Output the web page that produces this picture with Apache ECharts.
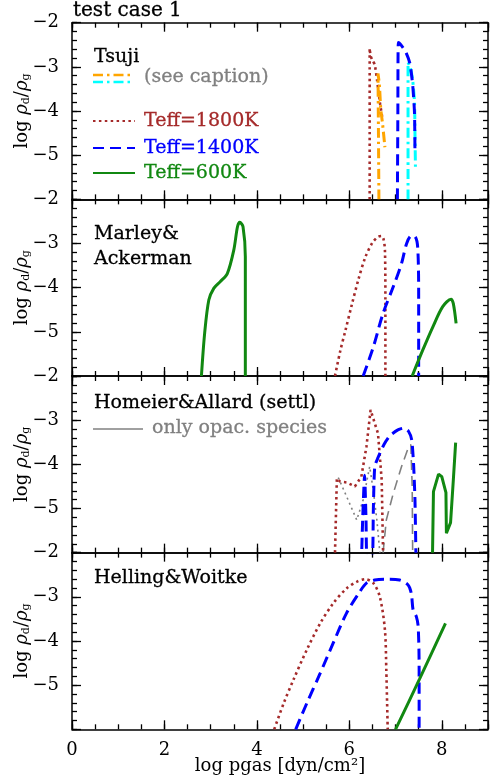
<!DOCTYPE html>
<html>
<head>
<meta charset="utf-8">
<script src="https://cdn.jsdelivr.net/npm/echarts@6/dist/echarts.min.js"></script>
<style>html,body{margin:0;padding:0;background:#fff}#chart{width:491px;height:779px}</style>
</head>
<body>
<div id="chart"></div>
<script>
// axis ranges / ticks
var xMin = 0, xMax = 9, xMajor = 2, xMinor = 0.5;
var yMin = -6, yMax = -2, yMajor = 1, yMinor = 0.2;
var panelNames = ['Tsuji', 'Marley&\nAckerman', 'Homeier&Allard (settl)', 'Helling&Woitke'];

// panel 1: Tsuji
var tsuji1800 = [[6.44,-6],[6.44,-4.5],[6.44,-3.2],[6.44,-2.58],[6.46,-2.75],[6.50,-2.85],[6.55,-2.95],[6.60,-3.3],[6.66,-3.8],[6.69,-4.0],[6.72,-4.2]];
var tsujiOrange = [[6.64,-6],[6.63,-4.5],[6.62,-3.15],[6.65,-3.4],[6.68,-3.95],[6.72,-4.3],[6.77,-4.82]];
var tsujiCyan = [[7.27,-6],[7.27,-4],[7.27,-2.9],[7.32,-3.02],[7.37,-3.3],[7.41,-3.8],[7.42,-4.5],[7.43,-5.26]];
var tsuji1400 = [[7.04,-6],[7.05,-4],[7.06,-2.45],[7.10,-2.48],[7.22,-2.66],[7.31,-2.92],[7.37,-3.4],[7.41,-4.05],[7.42,-4.97]];

// panel 2: Marley & Ackerman
var ma1800 = [[5.69,-6],[5.80,-5.45],[5.92,-4.95],[6.05,-4.4],[6.20,-3.8],[6.35,-3.3],[6.50,-2.98],[6.62,-2.85],[6.70,-2.83],[6.74,-2.9],[6.77,-3.15],[6.78,-4.28],[6.78,-6]];
var ma1400 = [[6.30,-6],[6.52,-5.34],[6.73,-4.58],[6.95,-3.98],[7.13,-3.45],[7.24,-3.0],[7.34,-2.83],[7.42,-2.84],[7.48,-3.1],[7.50,-4.28],[7.50,-6]];
var ma600a = [[2.80,-6],[2.87,-5.03],[2.96,-4.28],[3.07,-4.01],[3.21,-3.86],[3.36,-3.68],[3.50,-3.15],[3.58,-2.62],[3.63,-2.52],[3.70,-2.62],[3.75,-3.3],[3.75,-6]];
var ma600b = [[7.36,-6],[7.59,-5.41],[7.81,-4.88],[8.02,-4.43],[8.20,-4.26],[8.25,-4.36],[8.31,-4.81]];

// panel 3: Homeier & Allard (settl)
var ha1800 = [[5.69,-6],[5.73,-4.32],[5.80,-4.39],[5.94,-4.41],[6.12,-4.5],[6.26,-4.28],[6.37,-3.6],[6.46,-2.77],[6.55,-3.07],[6.62,-3.30],[6.70,-4.35],[6.73,-6]];
var ha1800opac = [[5.76,-4.3],[5.95,-4.75],[6.16,-5.26],[6.30,-4.8],[6.44,-4.05],[6.52,-4.6],[6.60,-5.3],[6.66,-6]];
var ha1400 = [[6.26,-6.3],[6.29,-5.2],[6.33,-4.25],[6.36,-5.2],[6.39,-6.3],[6.49,-6.3],[6.52,-5.0],[6.55,-4.05],[6.62,-3.85],[6.75,-3.55],[6.88,-3.35],[7.05,-3.22],[7.18,-3.18],[7.28,-3.25],[7.35,-3.45],[7.39,-4.0],[7.42,-4.8],[7.44,-6]];
var ha1400opac = [[6.73,-6],[6.80,-5.26],[6.95,-4.66],[7.13,-4.05],[7.27,-3.64],[7.33,-3.55],[7.36,-4.5],[7.37,-6]];
var ha600 = [[7.80,-6],[7.82,-4.62],[7.93,-4.22],[8.00,-4.28],[8.09,-4.64],[8.10,-5.56],[8.19,-5.32],[8.25,-4.35],[8.30,-3.51]];

// panel 4: Helling & Woitke
var hw1800 = [[4.375,-6],[4.58,-5.41],[4.79,-4.88],[5.08,-4.20],[5.37,-3.60],[5.65,-3.15],[5.94,-2.81],[6.16,-2.66],[6.34,-2.60],[6.52,-2.69],[6.66,-3.0],[6.77,-3.75],[6.80,-4.66],[6.83,-6]];
var hw1400 = [[4.84,-6],[5.08,-5.41],[5.37,-4.73],[5.65,-4.05],[5.94,-3.37],[6.23,-2.88],[6.37,-2.69],[6.55,-2.62],[6.80,-2.60],[7.09,-2.62],[7.27,-2.73],[7.34,-2.92],[7.38,-3.30],[7.45,-3.45],[7.49,-3.68],[7.51,-4.66],[7.51,-6]];
var hw600 = [[7.00,-6],[7.52,-4.86],[8.08,-3.60]];

var FONT = 'DejaVu Serif';
var C_BROWN = '#a52a2a', C_BLUE = '#0000ff', C_GREEN = '#118811', C_ORANGE = '#ffa500', C_CYAN = '#00ffff', C_GRAY = '#808080';
var DOT = [2.5, 3.4], DASH = [11, 6], DASHDOT = [10, 4, 2.5, 4];

var gridTop = 22.7, gridH = 176.65, gridLeft = 72, gridW = 416;

var myChart = echarts.init(document.getElementById('chart'));

var grids = [], xAxes = [], yAxes = [], series = [], graphics = [];

function tickAxis(i, pos, mn, mx, step, len, withLine) {
    return {
        type: 'value', gridIndex: i, position: pos, min: mn, max: mx, interval: step,
        axisLine: {show: withLine, onZero: false, lineStyle: {color: '#000', width: 1.5}},
        axisTick: {show: true, inside: true, length: len, lineStyle: {color: '#000', width: 1.3}},
        axisLabel: {show: false}, splitLine: {show: false}
    };
}

for (var i = 0; i < 4; i++) {
    grids.push({left: gridLeft, width: gridW, top: gridTop + gridH * i, height: gridH, outerBoundsMode: 'none', containLabel: false});
    var last = (i === 3);
    ['bottom', 'top'].forEach(function (pos) {
        var ax = tickAxis(i, pos, xMin, xMax, xMajor, 9, true);
        if (last && pos === 'bottom') {
            ax.axisLabel = {show: true, margin: 12, fontFamily: FONT, fontSize: 18, color: '#000',
                formatter: function (v) { return v === xMax ? '' : v; }};
            ax.name = 'log pgas [dyn/cm\u00b2]';
            ax.nameLocation = 'middle';
            ax.nameGap = 28;
            ax.nameMoveOverlap = false;
            ax.nameTextStyle = {fontFamily: FONT, fontSize: 18, color: '#000'};
        }
        xAxes.push(ax);
        xAxes.push(tickAxis(i, pos, xMin, xMax, xMinor, 5, false));
    });
    ['left', 'right'].forEach(function (pos) {
        var ay = tickAxis(i, pos, yMin, yMax, yMajor, 9, true);
        if (pos === 'left') {
            ay.axisLabel = {show: true, margin: 13, fontFamily: FONT, fontSize: 18, color: '#000',
                formatter: function (v) { return v === yMin ? '' : '\u2212' + Math.abs(v); }};
            ay.name = 'log {r|\u03c1}{s|d}/{r|\u03c1}{s|g}';
            ay.nameLocation = 'middle';
            ay.nameGap = 40;
            ay.nameRotate = 90;
            ay.nameMoveOverlap = false;
            ay.nameTextStyle = {fontFamily: FONT, fontSize: 18, color: '#000', lineHeight: 20,
                rich: {
                    r: {fontFamily: FONT, fontSize: 18, fontStyle: 'italic', color: '#000', lineHeight: 20},
                    s: {fontFamily: FONT, fontSize: 11, color: '#000', lineHeight: 20, verticalAlign: 'bottom', padding: [6, 0, 0, 0]}
                }};
        }
        yAxes.push(ay);
        yAxes.push(tickAxis(i, pos, yMin, yMax, yMinor, 5, false));
    });
}

function addLine(panel, data, color, type, width, smooth, z) {
    series.push({
        type: 'line', xAxisIndex: panel * 4, yAxisIndex: panel * 4, data: data,
        showSymbol: false, symbol: 'none', smooth: smooth, clip: true, z: z || 2,
        lineStyle: {color: color, width: width, type: type, cap: 'butt'},
        animation: false, silent: true
    });
}

addLine(0, tsuji1800, C_BROWN, DOT, 2.6, 0.2);
addLine(0, tsujiOrange, C_ORANGE, DASHDOT, 3, 0.2);
addLine(0, tsujiCyan, C_CYAN, DASHDOT, 3, 0.2);
addLine(0, tsuji1400, C_BLUE, DASH, 3, 0.2);

addLine(1, ma1800, C_BROWN, DOT, 2.6, 0.3);
addLine(1, ma1400, C_BLUE, DASH, 3, 0.3);
addLine(1, ma600a, C_GREEN, 'solid', 3, 0.3);
addLine(1, ma600b, C_GREEN, 'solid', 3, 0.3);

addLine(2, ha1800opac, C_GRAY, [2, 3.5], 1.6, false);
addLine(2, ha1400opac, C_GRAY, [10, 6], 1.6, false);
addLine(2, ha1800, C_BROWN, DOT, 2.6, false);
addLine(2, ha1400, C_BLUE, DASH, 3, 0.2);
addLine(2, ha600, C_GREEN, 'solid', 3, false);

addLine(3, hw1800, C_BROWN, DOT, 2.6, 0.3);
addLine(3, hw1400, C_BLUE, DASH, 3, 0.3);
addLine(3, hw600, C_GREEN, 'solid', 3, 0.3);

// texts and legend keys
function txt(x, y, s, color, size) {
    graphics.push({type: 'text', x: x, y: y, z: 10,
        style: {text: s, fill: color || '#000', font: (size || 19) + 'px "' + FONT + '"', textAlign: 'left', textVerticalAlign: 'middle', verticalAlign: 'middle', lineHeight: 25,
            stroke: color || '#000', lineWidth: 0.3}});
}
function key(x1, x2, y, color, dash, w) {
    graphics.push({type: 'line', z: 10, shape: {x1: x1, y1: y, x2: x2, y2: y},
        style: {stroke: color, lineWidth: w || 2.5, lineDash: dash}});
}
txt(73, 11, 'test case 1', '#000', 20);
txt(94, 57, panelNames[0]);
key(93, 132, 75, C_ORANGE, DASHDOT, 2.5);
key(93, 132, 82, C_CYAN, DASHDOT, 2.5);
txt(144, 77, '(see caption)', C_GRAY);
key(93, 135, 121, C_BROWN, DOT, 2.2);
txt(144, 121, 'Teff=1800K', C_BROWN);
key(93, 135, 148, C_BLUE, DASH, 2.2);
txt(144, 148, 'Teff=1400K', C_BLUE);
key(93, 135, 173, C_GREEN, null, 2);
txt(144, 173, 'Teff=600K', C_GREEN);
txt(94, 247, panelNames[1]);
txt(94, 403, panelNames[2]);
key(93, 143, 429, C_GRAY, null, 1.5);
txt(152, 428, 'only opac. species', C_GRAY);
txt(94, 578, panelNames[3]);

var option = {
    backgroundColor: '#fff',
    animation: false,
    grid: grids,
    xAxis: xAxes,
    yAxis: yAxes,
    series: series,
    graphic: graphics
};
myChart.setOption(option);
</script>
</body>
</html>
